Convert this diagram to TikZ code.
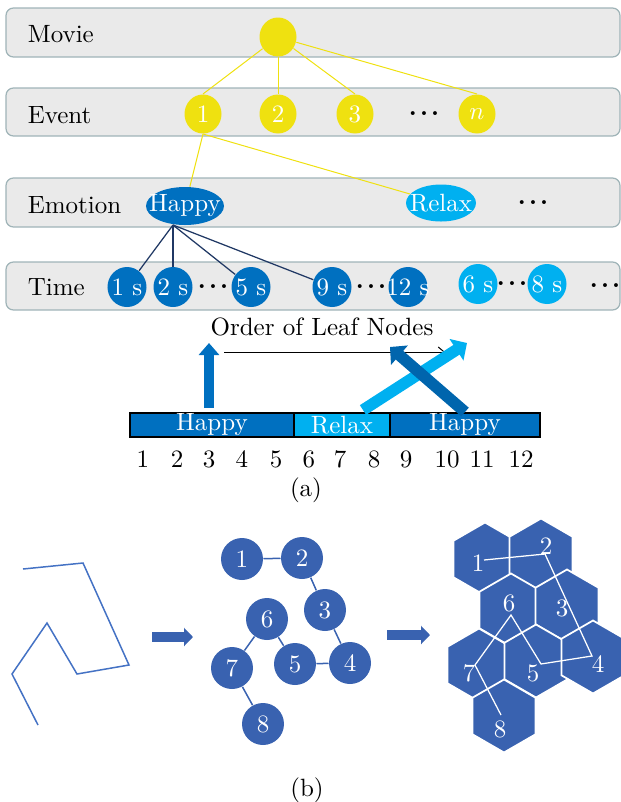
\documentclass[tikz,border=0pt]{standalone}
\usepackage{amsmath}
\usepackage{amssymb}
\usetikzlibrary{shapes.geometric,arrows.meta}

\definecolor{movieyellow}{RGB}{239,225,16}
\definecolor{rowgray}{RGB}{234,234,234}
\definecolor{rowedge}{RGB}{160,180,184}
\definecolor{happyblue}{RGB}{0,112,192}
\definecolor{relaxblue}{RGB}{0,176,240}
\definecolor{linknavy}{RGB}{32,56,100}
\definecolor{graphblue}{RGB}{57,98,176}
\definecolor{pathblue}{RGB}{68,114,196}

\newcommand{\zw}[1]{\makebox[0pt]{#1}}
\newcommand{\rowdots}{{\bfseries .\hspace{1.3pt}.\hspace{1.3pt}.}}

\tikzset{
    row box/.style={draw=rowedge, fill=rowgray, rounded corners=3pt, line width=0.5pt},
    row label/.style={anchor=west},
    event node/.style={ellipse, fill=movieyellow, text=white, inner sep=0pt,
            minimum width=14.8pt, minimum height=15.6pt},
    time node/.style={ellipse, fill=#1, text=white, inner sep=0pt,
            minimum width=15.6pt, minimum height=16pt},
    mood node/.style={ellipse, fill=#1, text=white, inner sep=0pt},
    bar part/.style={draw=black, fill=#1, text=white, inner sep=0pt,
            minimum height=9.6pt, line width=0.5pt},
    gnode/.style={circle, fill=graphblue, text=white, inner sep=0pt, minimum size=16.8pt},
    hexcell/.style={regular polygon, regular polygon sides=6, shape border rotate=30,
            fill=graphblue, draw=white, line width=0.7pt, inner sep=0pt, minimum size=29.2pt},
    block arrow/.style={graphblue, line width=4pt, -{Triangle[length=3.6pt, width=7.2pt]}},
}

\begin{document}
\begin{tikzpicture}[x=0.4pt, y=-0.4pt]
    \useasboundingbox (0,0) rectangle (621,802);
    %draw row boxes
    \draw[row box] (6,8) rectangle (620,57);
    \draw[row box] (6,88) rectangle (620,136);
    \draw[row box] (6,178) rectangle (620,227);
    \draw[row box] (6,262) rectangle (620,310);
    \node[row label] (lmovie) at (19,34) {Movie};
    \node[row label] (levent) at (19,115) {Event};
    \node[row label] (lemotion) at (19,205) {Emotion};
    \node[row label] (ltime) at (19,287) {Time};
    %draw movie and events
    \node[event node] (m) at (278,37) {};
    \node[event node] (e1) at (203,114) {1};
    \node[event node] (e2) at (278,114) {2};
    \node[event node] (e3) at (355,114) {3};
    \node (edots) at (424,114) {\rowdots};
    \node[event node] (en) at (477,114) {$n$};
    \foreach \e in {e1, e2, e3, en}
        \draw[movieyellow, line width=0.4pt] (m) -- (\e.north);
    %draw emotions
    \node[mood node=happyblue, minimum width=31.2pt, minimum height=15.2pt] (happy) at (185,206) {\zw{Happy}};
    \node[mood node=relaxblue, minimum width=28pt, minimum height=14.8pt] (relax) at (441,203) {\zw{Relax}};
    \node (mdots) at (533,203) {\rowdots};
    \draw[movieyellow, line width=0.4pt] (e1.south) -- (happy);
    \draw[movieyellow, line width=0.4pt] (e1.south) -- (relax);
    %draw time leaves
    \node[time node=happyblue] (t1) at (127,287) {\zw{1 s}};
    \node[time node=happyblue] (t2) at (173,287) {\zw{2 s}};
    \node (tdots1) at (213,287) {\rowdots};
    \node[time node=happyblue] (t5) at (251,287) {\zw{5 s}};
    \node[time node=happyblue] (t9) at (332,287) {\zw{9 s}};
    \node (tdots2) at (371,287) {\rowdots};
    \node[time node=happyblue] (t12) at (408,287) {\zw{12 s}};
    \node[time node=relaxblue] (t6) at (478,284) {\zw{6 s}};
    \node (tdots3) at (512,284) {\rowdots};
    \node[time node=relaxblue] (t8) at (547,284) {\zw{8 s}};
    \node (tdots4) at (605,286) {\rowdots};
    \coordinate (hroot) at (173,225);
    \foreach \t in {t1, t2, t5, t9}
        \draw[linknavy, line width=0.5pt] (hroot) -- (\t);
    %draw order of leaf nodes
    \node (order) at (322,327) {Order of Leaf Nodes};
    \node[bar part=happyblue, minimum width=65.6pt] (bar1) at (212,425) {Happy};
    \node[bar part=relaxblue, minimum width=38.4pt] (bar2) at (342,425) {Relax};
    \node[bar part=happyblue, minimum width=60pt] (bar3) at (465,425) {Happy};
    \foreach \n/\x in {1/143, 2/177, 3/209, 4/242, 5/276, 6/309, 7/340, 8/374, 9/406, 10/447, 11/482, 12/521}
        \node (n\n) at (\x,459) {\n};
    \node (capa) at (306,490) {(a)};
    \draw[happyblue, line width=4pt, -{Triangle[length=4.8pt, width=8pt]}] (209,408) -- (209,343);
    \draw[line width=0.4pt, -{Straight Barb[length=2.4pt, width=4pt]}] (224,352) -- (445,352);
    \draw[relaxblue, line width=4.6pt, -{Triangle[length=5pt, width=10pt]}] (363,410) -- (467,343);
    \draw[happyblue!90!black, line width=4.6pt, -{Triangle[length=5pt, width=10pt]}] (465,412) -- (390,347);
    %draw protein chain
    \draw[pathblue, line width=0.6pt] (23,569) -- (83,563) -- (129,665) -- (77,674) -- (47,623) -- (12,674) -- (38,725);
    \draw[block arrow] (152,637) -- (193,637);
    %draw contact graph
    \node[gnode] (g1) at (242,559) {1};
    \node[gnode] (g2) at (302,558) {2};
    \node[gnode] (g3) at (325,610) {3};
    \node[gnode] (g4) at (350,663) {4};
    \node[gnode] (g5) at (295,664) {5};
    \node[gnode] (g6) at (267,619) {6};
    \node[gnode] (g7) at (232,668) {7};
    \node[gnode] (g8) at (263,724) {8};
    \draw[graphblue, line width=0.6pt] (g1) -- (g2) -- (g3) -- (g4) -- (g5) -- (g6) -- (g7) -- (g8);
    \draw[block arrow] (387,635) -- (430,635);
    %draw hexagon lattice
    \node[hexcell] (h1) at (485,559) {};
    \node[hexcell] (h2) at (541,555) {};
    \node[hexcell] (h6) at (511,610) {};
    \node[hexcell] (h3) at (567,606) {};
    \node[hexcell] (h7) at (479,665) {};
    \node[hexcell] (h5) at (536,661) {};
    \node[hexcell] (h4) at (593,657) {};
    \node[hexcell] (h8) at (504,716) {};
    \foreach \k/\x/\y in {1/478/563, 2/546/546, 3/562/608, 4/598/664, 5/533/673, 6/509/603, 7/469/673, 8/500/729}
        \node[text=white] (hl\k) at (\x,\y) {\k};
    \coordinate (p1) at (484,560);
    \coordinate (p2) at (545,554);
    \coordinate (p4) at (592,656);
    \coordinate (p5) at (541,664);
    \coordinate (p6) at (511,615);
    \coordinate (p7) at (475,665);
    \coordinate (p8) at (501,715);
    \draw[white, line width=0.5pt] (p1) -- (p2) -- (p4) -- (p5) -- (p6) -- (p7) -- (p8);
    \node (capb) at (307,790) {(b)};
\end{tikzpicture}
\end{document}
